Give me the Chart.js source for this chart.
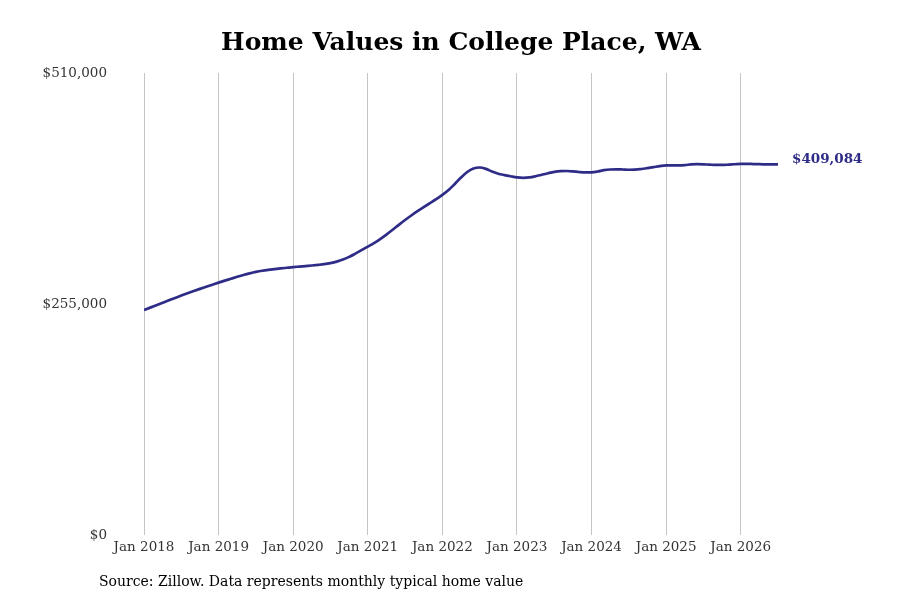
<!DOCTYPE html>
<html>
<head>
<meta charset="utf-8">
<script src="https://cdn.jsdelivr.net/npm/chart.js@4.4.1/dist/chart.umd.min.js"></script>
<style>
  html, body { margin: 0; padding: 0; background: #fff; }
  #wrap { width: 900px; height: 600px; }
</style>
</head>
<body>
<div id="wrap"><canvas id="myChart" width="900" height="600"></canvas></div>
<script>
// Dados (valores mensais, jan 2018 - jul 2026)
var anos = [2018, 2019, 2020, 2021, 2022, 2023, 2024, 2025, 2026];
var valores = [
  248400, 251000, 253700, 256400, 259100, 261700, 264300, 266800, 269300, 271700, 274000, 276300,
  278600, 280800, 282900, 285000, 287000, 288800, 290400, 291700, 292700, 293500, 294300, 295000,
  295700, 296300, 296900, 297500, 298200, 299000, 300200, 301800, 304000, 307000, 310600, 314400,
  318300, 322300, 326700, 331600, 336900, 342400, 347700, 352700, 357400, 361900, 366300, 370700,
  375400, 380800, 387500, 394600, 400700, 404600, 405700, 404200, 401200, 398800, 397300, 396000,
  394800, 394300, 394700, 396000, 397700, 399400, 400900, 401700, 401800, 401400, 400700, 400300,
  400400, 401300, 402700, 403500, 403700, 403500, 403200, 403300, 404000, 405000, 406100, 407200,
  408000, 408100, 408100, 408400, 409100, 409400, 409200, 408800, 408500, 408500, 408800, 409300,
  409700, 409700, 409500, 409300, 409200, 409100, 409084
];
var yTicks = [0, 255000, 510000];
var titulo = 'Home Values in College Place, WA';
var fonte = 'Source: Zillow. Data represents monthly typical home value';

var corLinha = '#2f2c88';
var serif = "'DejaVu Serif', serif";

var pontos = valores.map(function (v, i) { return { x: i, y: v }; });

function dinheiro(v) {
  return '$' + v.toLocaleString('en-US');
}

// Titulo, fonte e rotulo do ultimo valor
var textos = {
  id: 'textos',
  afterDraw: function (chart) {
    var c = chart.ctx;
    var area = chart.chartArea;
    c.save();
    c.fillStyle = '#000';
    c.font = 'bold 25px ' + serif;
    c.textAlign = 'center';
    c.textBaseline = 'middle';
    c.fillText(titulo, (area.left + area.right) / 2, 43);

    c.font = '14px ' + serif;
    c.textAlign = 'left';
    c.fillText(fonte, 99, 582);

    var meta = chart.getDatasetMeta(0);
    var ult = meta.data[meta.data.length - 1];
    c.fillStyle = corLinha;
    c.font = 'bold 13.5px ' + serif;
    c.fillText(dinheiro(valores[valores.length - 1]), ult.x + 14, ult.y - 5);
    c.restore();
  }
};

var ctx = document.getElementById('myChart').getContext('2d');
var myChart = new Chart(ctx, {
  type: 'line',
  data: {
    datasets: [{
      data: pontos,
      borderColor: corLinha,
      borderWidth: 2.7,
      pointRadius: 0,
      cubicInterpolationMode: 'monotone',
      fill: false
    }]
  },
  options: {
    responsive: false,
    animation: false,
    layout: { padding: { left: 0, right: 122, top: 73, bottom: 35 } },
    plugins: {
      legend: { display: false },
      tooltip: { enabled: false },
      title: { display: false }
    },
    scales: {
      x: {
        type: 'linear',
        min: 0,
        max: valores.length - 1,
        afterBuildTicks: function (scale) {
          scale.ticks = anos.map(function (a, i) { return { value: i * 12 }; });
        },
        afterFit: function (scale) { scale.height = 30; },
        border: { display: false },
        grid: { color: '#c4c4c4', lineWidth: 1, drawTicks: false },
        ticks: {
          padding: 4,
          color: '#333',
          font: { family: serif, size: 13.5 },
          maxRotation: 0,
          autoSkip: false,
          callback: function (v) { return 'Jan ' + anos[v / 12]; }
        }
      },
      y: {
        min: 0,
        max: 510000,
        afterBuildTicks: function (scale) {
          scale.ticks = yTicks.map(function (v) { return { value: v }; });
        },
        afterFit: function (scale) { scale.width = 144; },
        border: { display: false },
        grid: { display: false, drawTicks: false },
        ticks: {
          padding: 37,
          color: '#333',
          font: { family: serif, size: 13.5 },
          callback: function (v) { return dinheiro(v); }
        }
      }
    }
  },
  plugins: [textos]
});
</script>
</body>
</html>
